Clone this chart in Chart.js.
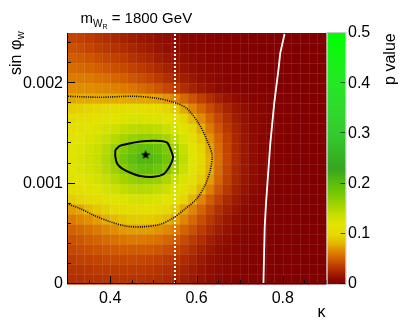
<!DOCTYPE html>
<html>
<head>
<meta charset="utf-8">
<script src="https://cdn.jsdelivr.net/npm/chart.js@4.4.0/dist/chart.umd.min.js"></script>
<style>
  html, body { margin: 0; padding: 0; background: #fff; }
  #wrap { width: 407px; height: 332px; }
</style>
</head>
<body>
<div id="wrap"><canvas id="chart" width="407" height="332"></canvas></div>
<script>
// --- data -------------------------------------------------------------
// bin centres of the scan (kappa on x, sin phi_w on y)
var kappaBins = [0.31, 0.33, 0.35, 0.37, 0.39, 0.41, 0.43, 0.45, 0.47, 0.49,
                 0.51, 0.53, 0.55, 0.57, 0.59, 0.61, 0.63, 0.65, 0.67, 0.69,
                 0.71, 0.73, 0.75, 0.77, 0.79, 0.81, 0.83, 0.85, 0.87, 0.89];
var sinBins = [0.00005, 0.00015, 0.00025, 0.00035, 0.00045, 0.00055, 0.00065,
               0.00075, 0.00085, 0.00095, 0.00105, 0.00115, 0.00125, 0.00135,
               0.00145, 0.00155, 0.00165, 0.00175, 0.00185, 0.00195, 0.00205,
               0.00215, 0.00225, 0.00235, 0.00245];
// p value, one row per sinBins entry (bottom row first)
var pValues = [
  [0.029,0.030,0.031,0.031,0.032,0.032,0.032,0.032,0.031,0.030,0.029,0.027,0.024,0.021,0.018,0.014,0.011,0.008,0.006,0.004,0.003,0.002,0.002,0.001,0.001,0.001,0.001,0.000,0.000,0.000],
  [0.032,0.033,0.034,0.035,0.035,0.036,0.036,0.036,0.035,0.034,0.032,0.030,0.027,0.024,0.020,0.016,0.012,0.009,0.007,0.005,0.003,0.002,0.002,0.001,0.001,0.001,0.001,0.000,0.000,0.000],
  [0.036,0.038,0.039,0.040,0.041,0.042,0.042,0.042,0.041,0.040,0.038,0.035,0.032,0.028,0.024,0.019,0.014,0.011,0.008,0.006,0.004,0.003,0.002,0.002,0.001,0.001,0.001,0.000,0.000,0.000],
  [0.041,0.043,0.045,0.046,0.048,0.049,0.050,0.050,0.050,0.049,0.047,0.044,0.040,0.035,0.029,0.023,0.018,0.013,0.009,0.007,0.005,0.003,0.002,0.002,0.001,0.001,0.001,0.000,0.000,0.000],
  [0.046,0.048,0.051,0.053,0.056,0.058,0.060,0.061,0.061,0.060,0.058,0.054,0.049,0.043,0.036,0.029,0.022,0.016,0.012,0.008,0.006,0.004,0.003,0.002,0.001,0.001,0.001,0.000,0.000,0.000],
  [0.052,0.055,0.058,0.062,0.066,0.069,0.072,0.074,0.074,0.073,0.071,0.067,0.061,0.053,0.045,0.036,0.028,0.021,0.015,0.010,0.007,0.005,0.003,0.002,0.002,0.001,0.001,0.000,0.000,0.000],
  [0.062,0.066,0.070,0.074,0.079,0.084,0.088,0.091,0.092,0.092,0.089,0.084,0.075,0.066,0.055,0.044,0.034,0.025,0.018,0.012,0.008,0.006,0.004,0.002,0.002,0.001,0.001,0.000,0.000,0.000],
  [0.074,0.077,0.085,0.090,0.095,0.100,0.104,0.107,0.109,0.109,0.106,0.100,0.091,0.077,0.066,0.053,0.041,0.030,0.022,0.015,0.010,0.007,0.005,0.003,0.002,0.001,0.001,0.001,0.000,0.000],
  [0.093,0.098,0.103,0.108,0.113,0.118,0.123,0.127,0.129,0.128,0.125,0.119,0.110,0.098,0.082,0.066,0.051,0.038,0.027,0.019,0.013,0.008,0.005,0.003,0.002,0.002,0.001,0.001,0.000,0.000],
  [0.105,0.110,0.115,0.120,0.127,0.134,0.141,0.146,0.148,0.147,0.143,0.136,0.126,0.113,0.098,0.082,0.064,0.047,0.034,0.023,0.015,0.010,0.006,0.004,0.002,0.002,0.001,0.001,0.000,0.000],
  [0.113,0.118,0.124,0.130,0.139,0.149,0.158,0.165,0.168,0.167,0.162,0.153,0.140,0.125,0.109,0.092,0.074,0.054,0.038,0.026,0.017,0.011,0.007,0.004,0.003,0.002,0.001,0.001,0.000,0.000],
  [0.118,0.124,0.130,0.137,0.148,0.160,0.174,0.188,0.196,0.196,0.189,0.175,0.158,0.138,0.118,0.098,0.079,0.057,0.040,0.027,0.018,0.011,0.007,0.004,0.003,0.002,0.001,0.001,0.000,0.000],
  [0.120,0.126,0.132,0.140,0.152,0.167,0.184,0.199,0.209,0.209,0.200,0.184,0.165,0.143,0.121,0.100,0.080,0.058,0.041,0.028,0.018,0.011,0.007,0.004,0.003,0.002,0.001,0.001,0.000,0.000],
  [0.118,0.124,0.130,0.137,0.148,0.162,0.177,0.190,0.198,0.199,0.192,0.178,0.160,0.139,0.118,0.097,0.077,0.056,0.040,0.027,0.018,0.011,0.007,0.004,0.003,0.002,0.001,0.001,0.000,0.000],
  [0.115,0.120,0.125,0.131,0.139,0.148,0.157,0.163,0.166,0.166,0.163,0.156,0.144,0.128,0.110,0.090,0.071,0.053,0.038,0.026,0.017,0.011,0.007,0.004,0.003,0.002,0.001,0.001,0.000,0.000],
  [0.110,0.114,0.118,0.123,0.129,0.135,0.141,0.145,0.147,0.147,0.144,0.138,0.128,0.115,0.098,0.079,0.062,0.047,0.034,0.024,0.016,0.010,0.007,0.004,0.003,0.002,0.001,0.001,0.000,0.000],
  [0.104,0.107,0.110,0.113,0.117,0.121,0.124,0.126,0.127,0.126,0.123,0.118,0.110,0.098,0.083,0.068,0.054,0.041,0.030,0.021,0.014,0.009,0.006,0.004,0.002,0.002,0.001,0.001,0.000,0.000],
  [0.093,0.095,0.097,0.099,0.101,0.103,0.104,0.105,0.105,0.104,0.102,0.098,0.090,0.078,0.066,0.054,0.043,0.033,0.024,0.017,0.012,0.008,0.006,0.004,0.002,0.001,0.001,0.001,0.000,0.000],
  [0.077,0.078,0.078,0.078,0.078,0.078,0.078,0.077,0.077,0.076,0.075,0.071,0.064,0.055,0.046,0.037,0.029,0.022,0.016,0.011,0.008,0.005,0.004,0.003,0.002,0.001,0.001,0.000,0.000,0.000],
  [0.069,0.069,0.068,0.067,0.066,0.064,0.062,0.060,0.056,0.052,0.047,0.041,0.035,0.029,0.023,0.018,0.014,0.010,0.007,0.005,0.004,0.003,0.002,0.002,0.001,0.001,0.001,0.000,0.000,0.000],
  [0.062,0.062,0.061,0.059,0.057,0.054,0.051,0.048,0.044,0.040,0.035,0.030,0.025,0.021,0.017,0.013,0.010,0.008,0.006,0.004,0.003,0.002,0.002,0.001,0.001,0.001,0.000,0.000,0.000,0.000],
  [0.056,0.055,0.053,0.051,0.048,0.045,0.042,0.039,0.035,0.031,0.027,0.023,0.019,0.016,0.013,0.010,0.008,0.006,0.005,0.003,0.002,0.002,0.001,0.001,0.001,0.001,0.000,0.000,0.000,0.000],
  [0.050,0.049,0.047,0.044,0.041,0.038,0.035,0.031,0.028,0.025,0.021,0.018,0.015,0.012,0.010,0.008,0.006,0.005,0.004,0.003,0.002,0.001,0.001,0.001,0.001,0.000,0.000,0.000,0.000,0.000],
  [0.045,0.043,0.040,0.037,0.034,0.031,0.028,0.025,0.022,0.019,0.016,0.013,0.011,0.009,0.007,0.006,0.005,0.004,0.003,0.002,0.002,0.001,0.001,0.001,0.000,0.000,0.000,0.000,0.000,0.000],
  [0.040,0.038,0.035,0.032,0.029,0.026,0.023,0.020,0.018,0.015,0.013,0.011,0.009,0.007,0.006,0.005,0.004,0.003,0.003,0.002,0.002,0.001,0.001,0.001,0.001,0.001,0.000,0.000,0.000,0.000]
];

// contours
var outerContourK = [0.300,0.331,0.362,0.400,0.439,0.477,0.516,0.547,0.574,0.601,0.620,0.632,0.636,0.624,0.605,0.577,0.547,0.508,0.454,0.377,0.300];
var outerContourS = [0.00080,0.00075,0.000685,0.00062,0.000575,0.00057,0.000595,0.00066,0.00075,0.00085,0.000985,0.001135,0.001285,0.001435,0.0016,0.00175,0.00181,0.00185,0.00187,0.00186,0.00187];
var innerContourK = [0.412,0.4235,0.454,0.485,0.516,0.532,0.539,0.5455,0.543,0.535,0.524,0.501,0.470,0.447,0.427,0.416,0.412,0.412];
var innerContourS = [0.001335,0.001378,0.001408,0.001425,0.001425,0.001408,0.001352,0.001268,0.001218,0.001152,0.001095,0.001068,0.001075,0.001108,0.001152,0.0012,0.001268,0.001335];
var limitLineK = [0.755,0.758,0.761,0.766,0.771,0.780,0.790,0.794,0.804];
var limitLineS = [0.0,0.00057,0.0008,0.0011,0.0014,0.0018,0.00214,0.0023,0.00249];
var bestFitK = [0.482];
var bestFitS = [0.00129];
var dividerK = [0.55, 0.55];
var dividerS = [0.0, 0.0025];

var xTicks = [0.4, 0.6, 0.8];
var yTicks = [0, 0.001, 0.002];
var yTickLabels = ['0', '0.001', '0.002'];
var zTicks = [0, 0.1, 0.2, 0.3, 0.4, 0.5];

// --- palette ------------------------------------------------------------
var paletteStops = [
  [0.000, 128, 0, 0], [0.010, 140, 10, 0], [0.020, 158, 28, 0], [0.030, 178, 48, 0],
  [0.040, 195, 68, 0], [0.050, 208, 92, 0], [0.060, 218, 118, 0], [0.070, 225, 145, 0],
  [0.080, 228, 178, 0], [0.090, 228, 200, 0], [0.100, 228, 218, 0], [0.120, 225, 228, 0],
  [0.140, 198, 222, 0], [0.160, 160, 210, 0], [0.180, 120, 200, 5], [0.200, 95, 190, 12],
  [0.215, 75, 178, 22], [0.230, 58, 165, 35], [0.300, 45, 200, 40], [0.400, 25, 230, 25],
  [0.500, 0, 255, 0]
];
function paletteColor(v) {
  if (v <= paletteStops[0][0]) v = paletteStops[0][0];
  for (var i = 1; i < paletteStops.length; i++) {
    var a = paletteStops[i - 1], b = paletteStops[i];
    if (v <= b[0] || i === paletteStops.length - 1) {
      var t = Math.min(1, (v - a[0]) / (b[0] - a[0]));
      return 'rgb(' + Math.round(a[1] + t * (b[1] - a[1])) + ',' +
        Math.round(a[2] + t * (b[2] - a[2])) + ',' + Math.round(a[3] + t * (b[3] - a[3])) + ')';
    }
  }
}

function toPoints(xs, ys) {
  return xs.map(function(x, i) { return {x: x, y: ys[i]}; });
}

// filled star marker
function starMarker(size) {
  var c = document.createElement('canvas');
  c.width = size; c.height = size;
  var g = c.getContext('2d');
  var cx = size / 2, cy = size / 2 + 0.5, ro = size / 2, ri = ro * 0.42;
  g.beginPath();
  for (var i = 0; i < 10; i++) {
    var r = i % 2 ? ri : ro;
    var a = -Math.PI / 2 + i * Math.PI / 5;
    g.lineTo(cx + r * Math.cos(a), cy + r * Math.sin(a));
  }
  g.closePath();
  g.fillStyle = '#000';
  g.fill();
  return c;
}

var FONT = "'Liberation Sans', Arial, sans-serif";
Chart.defaults.font.family = FONT;
Chart.defaults.color = '#000';

// heat map cells, drawn under the contour lines
var heatmapPlugin = {
  id: 'heatmap',
  beforeDatasetsDraw: function(chart) {
    var ctx = chart.ctx, xs = chart.scales.x, ys = chart.scales.y;
    var dk = kappaBins[1] - kappaBins[0], ds = sinBins[1] - sinBins[0];
    ctx.save();
    for (var j = 0; j < sinBins.length; j++) {
      var yTop = ys.getPixelForValue(sinBins[j] + ds / 2);
      var yBot = ys.getPixelForValue(sinBins[j] - ds / 2);
      for (var i = 0; i < kappaBins.length; i++) {
        var xL = xs.getPixelForValue(kappaBins[i] - dk / 2);
        var xR = xs.getPixelForValue(kappaBins[i] + dk / 2);
        ctx.fillStyle = paletteColor(pValues[j][i]);
        ctx.fillRect(xL, yTop, xR - xL + 0.6, yBot - yTop + 0.6);
      }
    }
    // faint seams between the cells
    ctx.strokeStyle = 'rgba(255,255,255,0.08)';
    ctx.lineWidth = 1;
    ctx.beginPath();
    for (var i2 = 1; i2 < kappaBins.length; i2++) {
      var x = Math.round(xs.getPixelForValue(kappaBins[i2] - dk / 2)) + 0.5;
      ctx.moveTo(x, chart.chartArea.top); ctx.lineTo(x, chart.chartArea.bottom);
    }
    for (var j2 = 1; j2 < sinBins.length; j2++) {
      var y = Math.round(ys.getPixelForValue(sinBins[j2] - ds / 2)) + 0.5;
      ctx.moveTo(chart.chartArea.left, y); ctx.lineTo(chart.chartArea.right, y);
    }
    ctx.stroke();
    ctx.restore();
  },
  afterDatasetsDraw: function(chart) {
    var ctx = chart.ctx, xs = chart.scales.x, ys = chart.scales.y, a = chart.chartArea;
    ctx.save();
    ctx.strokeStyle = '#000';
    ctx.lineWidth = 1;
    ctx.beginPath();
    // axis lines
    ctx.moveTo(a.left + 0.5, a.top); ctx.lineTo(a.left + 0.5, a.bottom);
    ctx.moveTo(a.left, a.bottom - 0.5); ctx.lineTo(a.right, a.bottom - 0.5);
    // y ticks: major every 0.001, minor every 0.0002
    for (var m = 0; m <= 12; m++) {
      var v = m * 0.0002;
      var y = Math.round(ys.getPixelForValue(v)) - 0.5;
      var len = (m % 5 === 0) ? 8 : 4;
      ctx.moveTo(a.left, y); ctx.lineTo(a.left + len, y);
    }
    // x ticks: major every 0.2, minor every 0.05
    for (var n = 0; n <= 12; n++) {
      var kv = 0.3 + n * 0.05;
      var x = Math.round(xs.getPixelForValue(kv)) + 0.5;
      var l2 = (n % 4 === 2) ? 8 : 4;
      ctx.moveTo(x, a.bottom); ctx.lineTo(x, a.bottom - l2);
    }
    ctx.stroke();
    ctx.restore();
  },
  afterDraw: function(chart) {
    var ctx = chart.ctx, a = chart.chartArea, zs = chart.scales.z;
    ctx.save();
    // colour bar
    var bx0 = a.right + 1.5, bx1 = a.right + 19.5;
    var steps = 250;
    for (var s = 0; s < steps; s++) {
      var v0 = 0.5 * s / steps, v1 = 0.5 * (s + 1) / steps;
      var y0 = zs.getPixelForValue(v1), y1 = zs.getPixelForValue(v0);
      ctx.fillStyle = paletteColor((v0 + v1) / 2);
      ctx.fillRect(bx0, y0, bx1 - bx0, y1 - y0 + 0.5);
    }
    ctx.strokeStyle = 'rgba(0,0,0,0.6)';
    ctx.lineWidth = 1;
    ctx.beginPath();
    zTicks.forEach(function(t) {
      var y = Math.round(zs.getPixelForValue(t)) - 0.5;
      ctx.moveTo(bx1 - 5, y); ctx.lineTo(bx1, y);
    });
    ctx.stroke();
    ctx.strokeStyle = '#c8c8c8';
    ctx.strokeRect(bx0 - 0.5, a.top - 0.5, bx1 - bx0 + 1, a.bottom - a.top + 1);

    ctx.fillStyle = '#000';
    ctx.textBaseline = 'alphabetic';
    // title m_{W_R} = 1800 GeV
    ctx.textAlign = 'left';
    ctx.font = '15px ' + FONT;
    ctx.fillText('m', 80.5, 23.3);
    var x = 80.5 + ctx.measureText('m').width;
    ctx.font = '10px ' + FONT;
    ctx.fillText('W', x, 26.8);
    x += ctx.measureText('W').width;
    ctx.font = '7px ' + FONT;
    ctx.fillText('R', x, 28.8);
    x += ctx.measureText('R').width;
    ctx.font = '15px ' + FONT;
    ctx.fillText(' = 1800 GeV', x, 23.3);

    // y title: sin phi_w (rotated, aligned to top)
    ctx.save();
    ctx.translate(20.8, 75);
    ctx.rotate(-Math.PI / 2);
    ctx.font = '16px ' + FONT;
    ctx.fillText('sin \u03c6', 0, 0);
    var w = ctx.measureText('sin \u03c6').width;
    ctx.font = '11px ' + FONT;
    ctx.fillText('w', w + 0.5, 3.5);
    ctx.restore();

    // x title: kappa (aligned right)
    ctx.font = '16px ' + FONT;
    ctx.textAlign = 'right';
    ctx.fillText('\u03ba', 325.5, 316.7);

    // z title
    ctx.save();
    ctx.translate(395, 33.3);
    ctx.rotate(-Math.PI / 2);
    ctx.textAlign = 'right';
    ctx.fillText('p value', 0, 0);
    ctx.restore();
    ctx.restore();
  }
};

var chart = new Chart(document.getElementById('chart'), {
  type: 'scatter',
  data: {
    datasets: [
      {
        label: 'outer contour',
        data: toPoints(outerContourK, outerContourS),
        showLine: true, borderColor: '#000', borderWidth: 1.6,
        borderDash: [1, 1.2], pointRadius: 0, tension: 0.3
      },
      {
        label: 'inner contour',
        data: toPoints(innerContourK, innerContourS),
        showLine: true, borderColor: '#000', borderWidth: 2,
        pointRadius: 0, tension: 0.3
      },
      {
        label: 'divider',
        data: toPoints(dividerK, dividerS),
        showLine: true, borderColor: '#fff', borderWidth: 2,
        borderDash: [2, 2], pointRadius: 0
      },
      {
        label: 'limit',
        data: toPoints(limitLineK, limitLineS),
        showLine: true, borderColor: '#fff', borderWidth: 1.8,
        pointRadius: 0
      },
      {
        label: 'best fit',
        data: toPoints(bestFitK, bestFitS),
        pointStyle: starMarker(10), pointRadius: 5
      }
    ]
  },
  options: {
    responsive: false,
    animation: false,
    devicePixelRatio: 1,
    layout: { padding: { top: 33, left: 0, right: 0, bottom: 0 } },
    plugins: { legend: { display: false }, tooltip: { enabled: false } },
    scales: {
      x: {
        type: 'linear', min: 0.3, max: 0.9,
        afterBuildTicks: function(s) { s.ticks = xTicks.map(function(v) { return {value: v}; }); },
        afterFit: function(s) { s.height = 48; },
        grid: { display: false, drawTicks: false },
        border: { display: false },
        ticks: { font: { size: 16 }, padding: 5, maxRotation: 0, color: '#000',
                 callback: function(v) { return String(v); } }
      },
      y: {
        type: 'linear', min: 0, max: 0.0025,
        afterBuildTicks: function(s) { s.ticks = yTicks.map(function(v) { return {value: v}; }); },
        afterFit: function(s) { s.width = 67; },
        grid: { display: false, drawTicks: false },
        border: { display: false },
        ticks: { font: { size: 16 }, padding: 4, color: '#000',
                 callback: function(v) { return yTickLabels[yTicks.indexOf(v)]; } }
      },
      z: {
        type: 'linear', position: 'right', display: true, min: 0, max: 0.5,
        afterBuildTicks: function(s) { s.ticks = zTicks.map(function(v) { return {value: v}; }); },
        afterFit: function(s) { s.width = 81; },
        grid: { display: false, drawTicks: false },
        border: { display: false },
        ticks: { font: { size: 16 }, padding: 22, color: '#000',
                 callback: function(v) { return String(v); } }
      }
    }
  },
  plugins: [heatmapPlugin]
});
</script>
</body>
</html>
